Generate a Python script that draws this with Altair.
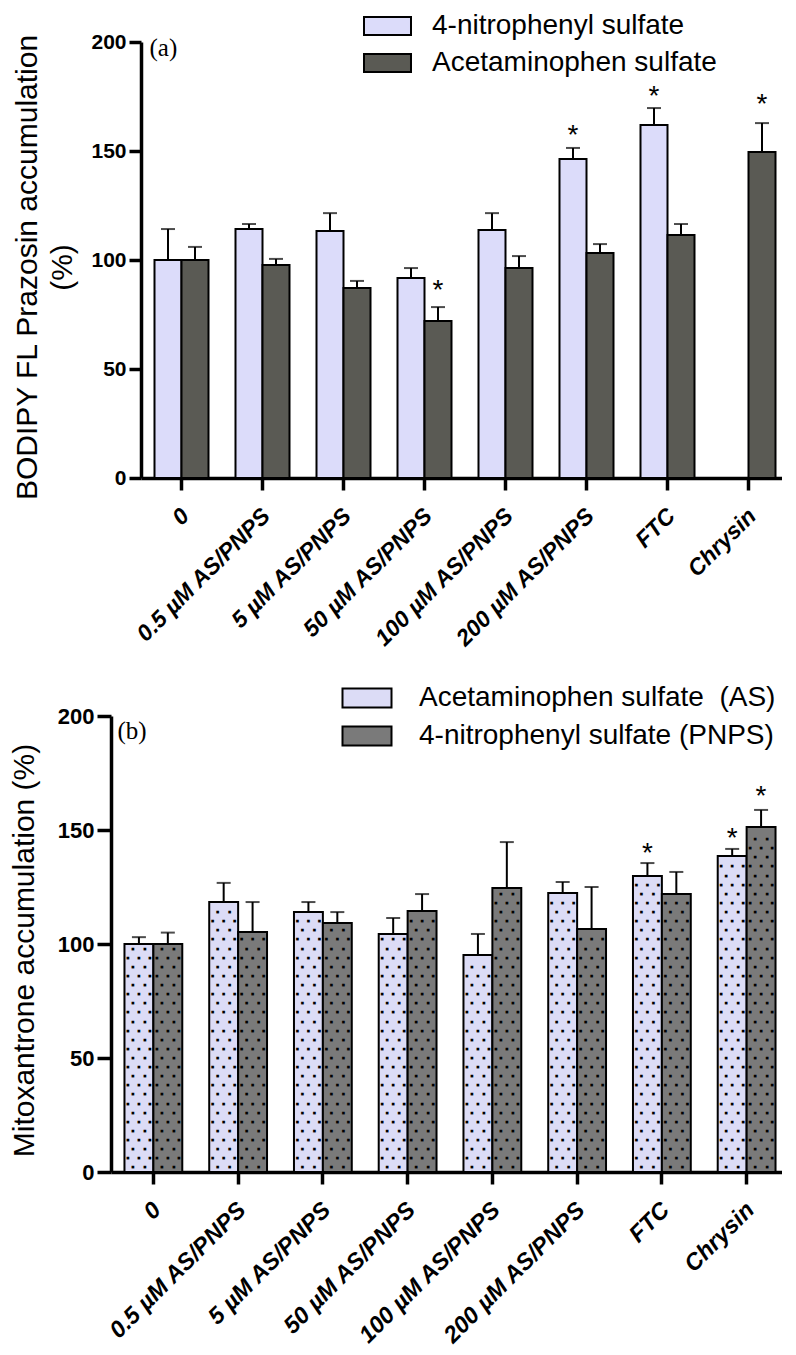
import altair as alt
import pandas as pd

conditions = ["0", "0.5 µM AS/PNPS", "5 µM AS/PNPS", "50 µM AS/PNPS",
              "100 µM AS/PNPS", "200 µM AS/PNPS", "FTC", "Chrysin"]
y_ticks = [0, 50, 100, 150, 200]

# ---- Panel (a): BODIPY FL Prazosin accumulation ----
series_a = ["4-nitrophenyl sulfate", "Acetaminophen sulfate"]
pnps_a_mean = [100, 114.2, 113.3, 91.7, 113.8, 146.3, 161.9, None]
pnps_a_top = [114.2, 116.5, 121.5, 96.3, 121.5, 151.4, 169.7, None]
pnps_a_star = [None, None, None, None, None, 160.6, 178.4, None]
as_a_mean = [100, 97.7, 87.2, 72.0, 96.3, 103.2, 111.5, 149.5]
as_a_top = [106.0, 100.5, 90.4, 78.4, 101.8, 107.3, 116.5, 162.8]
as_a_star = [None, None, None, 89.4, None, None, None, 174.8]
colors_a = ["#DCDCFA", "#5A5A54"]

# ---- Panel (b): Mitoxantrone accumulation ----
series_b = ["Acetaminophen sulfate\u00a0 (AS)", "4-nitrophenyl sulfate (PNPS)"]
as_b_mean = [100, 118.4, 114.0, 104.4, 95.2, 122.4, 129.8, 138.6]
as_b_top = [103.0, 126.8, 118.4, 111.4, 104.4, 127.2, 135.5, 141.7]
as_b_star = [None, None, None, None, None, None, 143.0, 149.6]
pnps_b_mean = [100, 105.3, 109.2, 114.5, 124.6, 106.6, 121.9, 151.3]
pnps_b_top = [105.0, 118.4, 114.0, 121.9, 144.7, 125.0, 131.6, 158.8]
pnps_b_star = [None, None, None, None, None, None, None, 168.0]
colors_b = ["#DCDCF6", "#7A7A7A"]

FONT = "Liberation Sans"


def table(series, means, tops, stars):
    rows = []
    for s, m, t, st in zip(series, means, tops, stars):
        for c, mv, tv, sv in zip(conditions, m, t, st):
            rows.append({"cond": c, "series": s, "mean": mv, "top": tv, "star": sv})
    return pd.DataFrame(rows)


def dot_table(series, means):
    # decorative stipple texture inside the bars of panel (b)
    rows = []
    for s, m in zip(series, means):
        for c, mv in zip(conditions, m):
            k = 0
            yv = 2.0
            while yv < mv - 1.5:
                rows.append({"cond": c, "series": s, "y": yv, "row": k % 2})
                yv += 4.0
                k += 1
    return pd.DataFrame(rows)


def panel(df, series, colors, W, H, x0, xo_pad, ytitle, title_x, title_y, lh,
          ylab, xlab, ytick, xlab_pad, leg_x, leg_y, sym_w, sym_h, row_pad, lab_off,
          tag, tag_dx, tag_dy, dots=None):
    yscale = alt.Scale(domain=[0, 200], nice=False, zero=True)
    yaxis = alt.Axis(values=y_ticks, grid=False, domainColor="black", domainWidth=3.5,
                     tickColor="black", tickWidth=3.5, tickSize=ytick, offset=-x0,
                     labelFont=FONT, labelFontSize=ylab, labelFontWeight="bold",
                     labelColor="black", labelPadding=3,
                     titleFont=FONT, titleFontSize=30, titleFontWeight="normal",
                     titleColor="black", titleAngle=270, titleAlign="center",
                     titleBaseline="bottom", titleX=title_x, titleY=title_y,
                     titleLineHeight=lh, titleLimit=2000)

    def Y(field):
        return alt.Y(f"{field}:Q", scale=yscale, axis=yaxis, title=ytitle)

    X = alt.X("cond:N", sort=conditions,
              scale=alt.Scale(paddingInner=0, paddingOuter=0, range=[x0, W]),
              axis=alt.Axis(title=None, domainColor="black", domainWidth=3.5,
                            tickColor="black", tickWidth=3.5, tickSize=12,
                            labelAngle=315, labelAlign="right", labelBaseline="middle",
                            labelFont=FONT, labelFontSize=xlab, labelFontWeight="bold",
                            labelFontStyle="italic", labelColor="black",
                            labelPadding=xlab_pad, labelOffset=4,
                            labelLimit=600, labelOverlap=False))
    XO = alt.XOffset("series:N", sort=series,
                     scale=alt.Scale(paddingInner=0, paddingOuter=xo_pad))

    # wide rectangle symbol; nominal symbol size is its height
    hw = sym_w / sym_h
    path = f"M-{hw:.3f},-1L{hw:.3f},-1L{hw:.3f},1L-{hw:.3f},1Z"
    extra = (sym_w - sym_h) / 2
    color = alt.Color("series:N", sort=series,
                      scale=alt.Scale(domain=series, range=colors),
                      legend=alt.Legend(orient="none", legendX=leg_x + extra, legendY=leg_y,
                                        title=None, labelFont=FONT, labelFontSize=28,
                                        labelColor="black", symbolType=path,
                                        symbolSize=sym_h * sym_h, symbolStrokeColor="black",
                                        symbolStrokeWidth=2, symbolOpacity=1,
                                        rowPadding=row_pad, labelOffset=lab_off + extra,
                                        padding=0, labelLimit=1000))

    base = alt.Chart(df)
    bars = base.mark_bar(stroke="black", strokeWidth=2).encode(
        x=X, xOffset=XO, y=Y("mean"), color=color)
    layers = [bars]
    if dots is not None:
        for parity, offs in [(0, [-6, 6]), (1, [-11, 0, 11])]:
            for dxv in offs:
                layers.append(
                    alt.Chart(dots).transform_filter(alt.datum.row == parity)
                    .mark_text(text="\u25a0", fontSize=3.5, font="DejaVu Sans",
                               color="black", dx=dxv, baseline="middle")
                    .encode(x=X, xOffset=XO, y=Y("y")))
    err = base.mark_rule(color="black", strokeWidth=2).encode(
        x=X, xOffset=XO, y=Y("mean"), y2="top:Q")
    cap = base.mark_tick(color="black", thickness=2, size=14, orient="horizontal").encode(
        x=X, xOffset=XO, y=Y("top"))
    stars = base.mark_text(text="*", font=FONT, fontSize=28, color="black",
                           baseline="alphabetic", dy=16).encode(
        x=X, xOffset=XO, y=Y("star"))
    label = alt.Chart(pd.DataFrame({"t": [tag]})).mark_text(
        font="Liberation Serif", fontSize=25, color="black", align="left",
        baseline="top", dx=tag_dx, dy=tag_dy).encode(
        x=alt.X(datum=conditions[0]), y=alt.Y(datum=200), text="t:N")
    layers += [err, cap, stars, label]
    return alt.layer(*layers).properties(width=W, height=H)


df_a = pd.concat([table([series_a[0]], [pnps_a_mean], [pnps_a_top], [pnps_a_star]),
                  table([series_a[1]], [as_a_mean], [as_a_top], [as_a_star])])
df_b = pd.concat([table([series_b[0]], [as_b_mean], [as_b_top], [as_b_star]),
                  table([series_b[1]], [pnps_b_mean], [pnps_b_top], [pnps_b_star])])
dots_b = dot_table(series_b, [as_b_mean, pnps_b_mean])

pa = panel(df_a, series_a, colors_a, W=678, H=436, x0=30, xo_pad=0.5,
           ytitle=["BODIPY FL Prazosin accumulation", "(%)"],
           title_x=-99, title_y=225, lh=35, ylab=21, xlab=23, ytick=12, xlab_pad=22,
           leg_x=248, leg_y=-30, sym_w=47, sym_h=18, row_pad=9, lab_off=16,
           tag="(a)", tag_dx=-32, tag_dy=-6)
pb = panel(df_b, series_b, colors_b, W=678, H=456, x0=0, xo_pad=0.466,
           ytitle="Mitoxantrone accumulation (%)",
           title_x=-72, title_y=234, lh=37, ylab=22, xlab=23.5, ytick=14, xlab_pad=22,
           leg_x=227, leg_y=-32, sym_w=49, sym_h=19, row_pad=10, lab_off=23,
           tag="(b)", tag_dx=-36, tag_dy=3, dots=dots_b)

chart = alt.concat(pa, pb, columns=1, spacing=33).properties(
    padding={"left": 0, "top": 4, "right": -7, "bottom": 0}
).configure_view(stroke=None).resolve_scale(color="independent", xOffset="independent")

chart.save("out.html", embed_options={"renderer": "svg", "actions": False})
